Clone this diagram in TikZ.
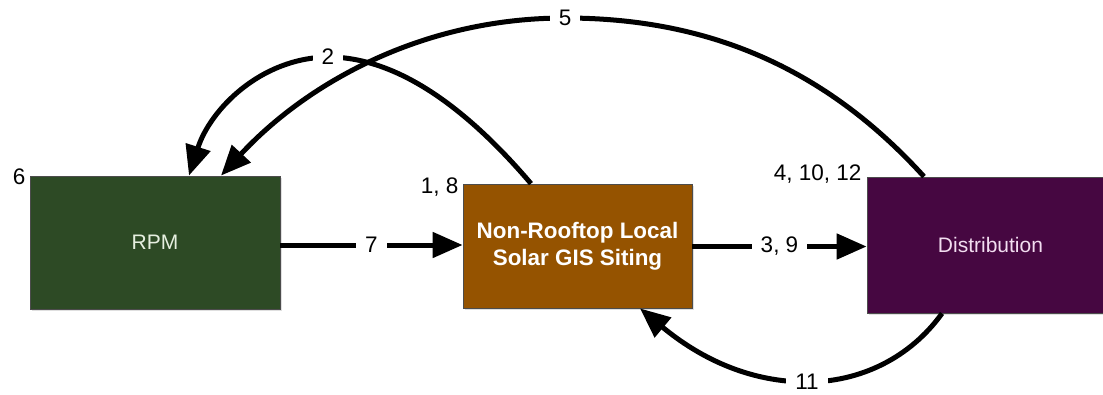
\documentclass[tikz,border=0pt]{standalone}
\usepackage{fontspec}
\setmainfont{Liberation Sans}
\usetikzlibrary{arrows.meta,shadows,calc}
\definecolor{rpmgreen}{HTML}{2D4A25}
\definecolor{sitebrown}{HTML}{955300}
\definecolor{distpurple}{HTML}{460741}
\definecolor{rpmtext}{HTML}{E6EFE0}
\definecolor{disttext}{HTML}{F2DDF0}
\tikzset{
  stage/.style={draw=black!70, line width=0.8pt, inner sep=0pt,
    drop shadow={opacity=0.25, shadow xshift=1.5pt, shadow yshift=-1.5pt}},
  flow/.style={line width=5pt, -{Triangle[length=30pt,width=25pt]}},
  flowlabel/.style={fill=white, inner xsep=9pt, inner ysep=3pt, font=\fontsize{22.5}{26}\selectfont},
  numlabel/.style={font=\fontsize{22.5}{26}\selectfont, inner sep=0pt}
}
\begin{document}
\begin{tikzpicture}[x=1pt,y=-1pt]
  \useasboundingbox (0,0) rectangle (1103,394);
  \clip (0,0) rectangle (1103,394);

  % stage boxes
  \node[stage, fill=rpmgreen, minimum width=250pt, minimum height=133pt,
        text=rpmtext, font=\fontsize{21}{25}\selectfont] (rpm) at (155,242.5) {RPM};
  \node[stage, fill=sitebrown, minimum width=229pt, minimum height=124pt,
        text=white, align=center, font=\bfseries\fontsize{22.4}{26.7}\selectfont]
        (site) at (577.5,246) {Non-Rooftop Local\\Solar GIS Siting};
  \node[stage, fill=distpurple, minimum width=247pt, minimum height=136pt,
        text=disttext, font=\fontsize{21}{25}\selectfont] (dist) at (990.5,245) {Distribution};

  % step numbers beside the boxes
  \node[numlabel, anchor=south east] (n6) at ([xshift=-4pt,yshift=-9pt]rpm.north west) {6};
  \node[numlabel, anchor=south east] (n18) at ([xshift=-4pt,yshift=-13pt]site.north west) {1, 8};
  \node[numlabel, anchor=south east] (n41012) at ([xshift=-5pt,yshift=-7pt]dist.north west) {4, 10, 12};

  % straight flows
  \draw[flow] (rpm.east |- 0,245) -- node[flowlabel] (l7) {7} (site.west |- 0,245);
  \draw[flow] (site.east |- 0,246.5) -- node[flowlabel] (l39) {3, 9} (dist.west |- 0,246.5);

  % curved flows
  \draw[flow] ([xshift=-46.5pt]site.north)
      .. controls (470,112) and (400,57) .. (328,57)
      node[flowlabel] (l2) {2}
      .. controls (260,58) and (210,110) .. ([xshift=34pt]rpm.north);
  \draw[flow] ([xshift=-66.5pt]dist.north)
      .. controls (820,62) and (700,18) .. (565,18)
      node[flowlabel] (l5) {5}
      .. controls (420,18) and (305,85) .. ([xshift=66pt]rpm.north);
  \draw[flow] ([xshift=-48.5pt]dist.south)
      .. controls (910,358) and (860,382) .. (807,382)
      node[flowlabel, inner ysep=1pt] (l11) {11}
      .. controls (740,382) and (690,350) .. ([xshift=62.5pt]site.south);
\end{tikzpicture}
\end{document}
